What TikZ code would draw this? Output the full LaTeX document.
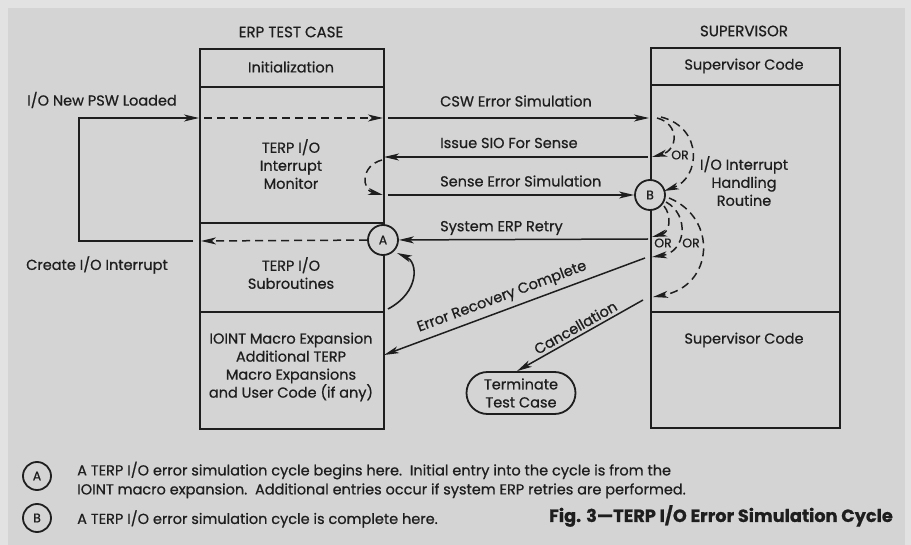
\documentclass[tikz,border=0pt]{standalone}
\usepackage{fontspec}
\setmainfont{Poppins}[FakeBold=0.7]
\newfontfamily\legendfont{Poppins}[FakeBold=0.6]
\usetikzlibrary{arrows.meta,shapes.misc}

\definecolor{paper}{HTML}{D4D4D4}
\definecolor{rim}{HTML}{E2E2E2}
\definecolor{ink}{HTML}{1E1E1E}

\tikzset{
	part/.style={draw=ink, line width=2pt, inner sep=0pt, anchor=north west},
	txt/.style={text=ink, font=\fontsize{14.5}{18}\selectfont, align=center, inner sep=0pt},
	head/.style={txt, font=\fontsize{15}{18}\selectfont},
	ortxt/.style={txt, font=\fontsize{12.5}{14}\selectfont},
	flow/.style={draw=ink, line width=1.5pt, -{Stealth[length=15pt,width=7pt,inset=4pt]}},
	alt/.style={flow, dash pattern=on 8pt off 5pt},
	tag/.style={circle, draw=ink, line width=1.8pt, fill=paper, minimum size=30pt, inner sep=0pt, text=ink, font=\fontsize{12.5}{14}\selectfont},
	legend/.style={text=ink, font=\legendfont\fontsize{14.5}{19}\selectfont, align=left, inner sep=0pt, anchor=west}
}

\begin{document}
\begin{tikzpicture}[x=1pt,y=-1pt]
% paper
\fill[rim] (0,0) rectangle (911,545);
\fill[paper] (8,8) rectangle (905,545);
\useasboundingbox (0,0) rectangle (911,545);

% headings
\node[head] (erp) at (291,32) {ERP TEST CASE};
\node[head] (sup) at (744,31) {SUPERVISOR};

% test case column
\node[part, minimum width=184pt, minimum height=38pt] (init) at (199,48) {};
\node[part, minimum width=184pt, minimum height=136pt] (monitor) at (199,86) {};
\node[part, minimum width=184pt, minimum height=89pt] (subr) at (199,222) {};
\node[part, minimum width=184pt, minimum height=117pt] (ioint) at (199,311) {};
\node[txt] (init-t) at (291,67) {Initialization};
\node[txt] (monitor-t) at (291,164) {TERP I/O\\Interrupt\\Monitor};
\node[txt] (subr-t) at (291,273) {TERP I/O\\Subroutines};
\node[txt] (ioint-t) at (291,367) {IOINT Macro Expansion\\Additional TERP\\Macro Expansions\\and User Code (if any)};

% supervisor column
\node[part, minimum width=189pt, minimum height=37pt] (supcode) at (650,47) {};
\node[part, minimum width=189pt, minimum height=227pt] (handler) at (650,84) {};
\node[part, minimum width=189pt, minimum height=116pt] (supcode2) at (650,311) {};
\node[txt] (supcode-t) at (744,66) {Supervisor Code};
\node[txt] (handler-t) at (744,181) {I/O Interrupt\\Handling\\Routine};
\node[txt] (supcode2-t) at (744,340) {Supervisor Code};

% end of case
\node[rounded rectangle, draw=ink, line width=1.8pt, minimum width=109pt, minimum height=42pt,
	txt, inner sep=0pt] (term) at (521,393) {Terminate\\Test Case};

% cycle points
\node[tag] (A) at (383,240) {A};
\node[tag] (B) at (650,195) {B};

% end points on the columns
\coordinate (ret-l) at (201,241);
\coordinate (loop-s) at (193,241);
\coordinate (loop-a) at (79,241);
\coordinate (loop-b) at (79,118);
\coordinate (psw-l) at (199,118);
\coordinate (csw-a) at (204,118);
\coordinate (csw-b) at (383,118);
\coordinate (csw-c) at (388,118);
\coordinate (csw-d) at (649,118);
\coordinate (sio-r) at (648,157);
\coordinate (sio-l) at (384,157);
\coordinate (sense-l) at (388,195);
\coordinate (retry-r) at (648,239);
\coordinate (rec-r) at (645,258);
\coordinate (rec-l) at (384,355);
\coordinate (can-r) at (643,300);

% interrupt loop
\draw[alt] (A) -- (ret-l);
\draw[flow] (loop-s) -- (loop-a) -- (loop-b) -- (psw-l);
\draw[alt] (csw-a) -- (csw-b);
\node[txt, anchor=west] (psw-t) at (27,100) {I/O New PSW Loaded};
\node[txt, anchor=west] (int-t) at (26,265) {Create I/O Interrupt};

% messages between the columns
\draw[flow] (csw-c) -- (csw-d);
\draw[flow] (sio-r) -- (sio-l);
\draw[flow] (sense-l) -- (B);
\draw[flow] (retry-r) -- (A);
\draw[flow] (rec-r) -- (rec-l)
	node[txt, sloped, above=5pt, pos=0.53] (rec-t) {Error Recovery Complete};
\draw[flow] (can-r) -- ([xshift=-4pt]term.north)
	node[txt, sloped, above=3pt, pos=0.5] (can-t) {Cancellation};
\node[txt, anchor=west] (csw-t) at (440,101) {CSW Error Simulation};
\node[txt, anchor=west] (sio-t) at (440,143) {Issue SIO For Sense};
\node[txt, anchor=west] (sense-t) at (440,181) {Sense Error Simulation};
\node[txt, anchor=west] (retry-t) at (440,228) {System ERP Retry};

% dashed alternatives
\draw[alt] (382,160) .. controls (360,166) and (362,190) .. (383,195);
\draw[alt] (657,118) .. controls (680,124) and (678,150) .. (652,157);
\draw[alt] (661,117) .. controls (704,128) and (700,178) .. (664,191);
\draw[alt] (664,206) .. controls (672,216) and (670,232) .. (652,237);
\draw[alt] (666,202) .. controls (690,215) and (686,252) .. (652,257);
\draw[alt] (669,198) .. controls (718,218) and (714,286) .. (653,297);
\node[ortxt] (or-a) at (680,155) {OR};
\node[ortxt] (or-b) at (663,243) {OR};
\node[ortxt] (or-c) at (691,243) {OR};

% entry into the cycle
\draw[flow, line width=1.6pt] (388,309) .. controls (420,292) and (418,262) .. (397,253);

% legend
\node[tag, minimum size=28pt] (leg-a) at (37,476) {A};
\node[tag, minimum size=28pt] (leg-b) at (37,518) {B};
\node[legend] (leg-a-t) at (77,480) {A TERP I/O error simulation cycle begins here.\ \ Initial entry into the cycle is from the\\IOINT macro expansion.\ \ Additional entries occur if system ERP retries are performed.};
\node[legend] (leg-b-t) at (77,519) {A TERP I/O error simulation cycle is complete here.};
\node[txt, font=\bfseries\fontsize{17.7}{20}\selectfont, anchor=east] (fig) at (893,516) {Fig. 3—TERP I/O Error Simulation Cycle};
\end{tikzpicture}
\end{document}
